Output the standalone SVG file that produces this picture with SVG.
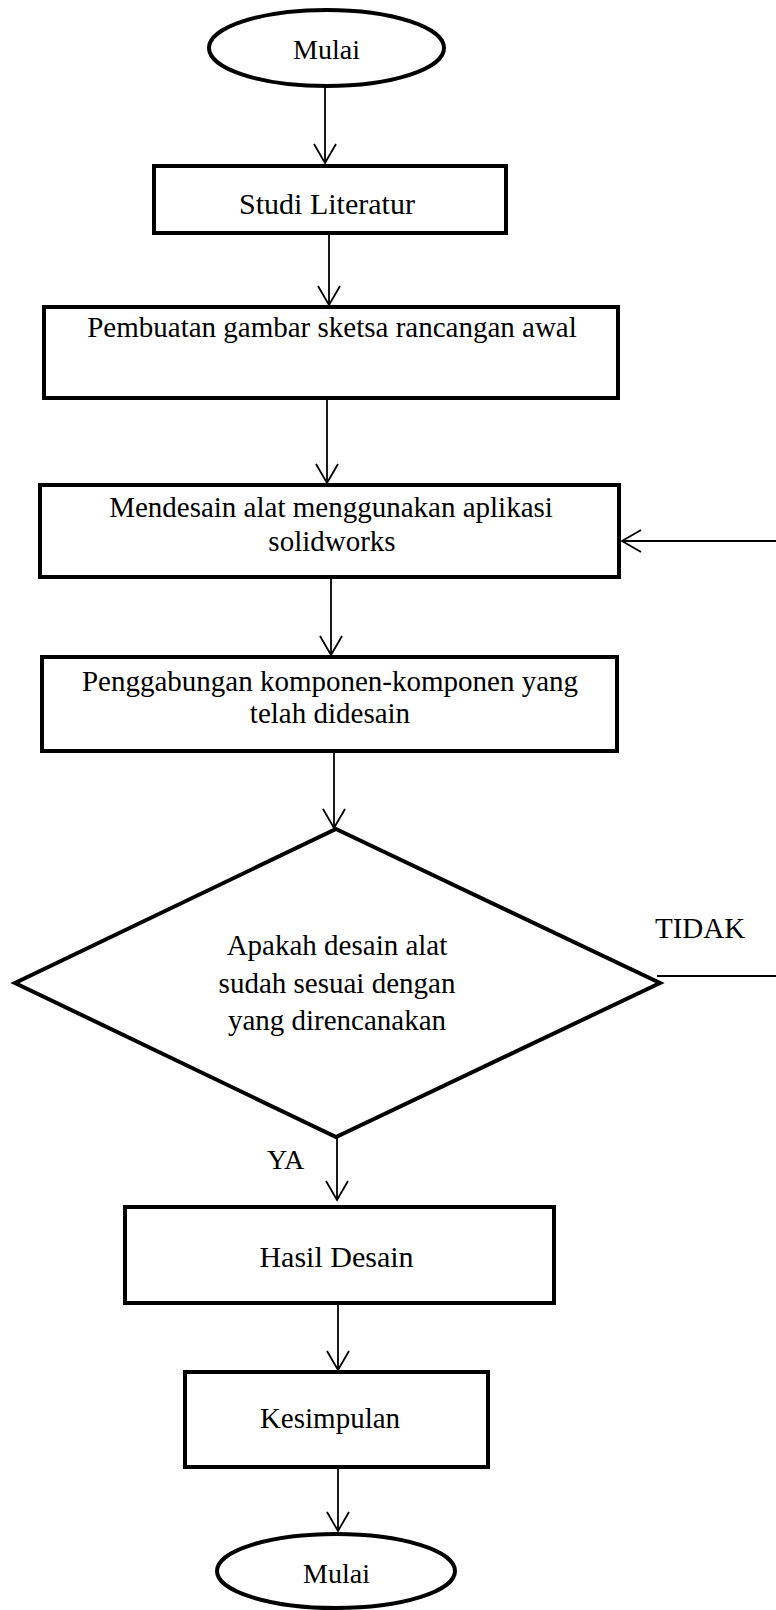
<svg xmlns="http://www.w3.org/2000/svg" width="776" height="1610" viewBox="0 0 776 1610">
<style>
.shape{fill:#fff;stroke:#000;stroke-width:4}
.conn{fill:none;stroke:#000;stroke-width:1.8}
text{font-family:"Liberation Serif","Times New Roman",serif;fill:#000;text-anchor:middle}
</style>
<defs>
<marker id="arr" markerUnits="userSpaceOnUse" viewBox="0 0 22 24" refX="20" refY="12" markerWidth="22" markerHeight="24" orient="auto">
<path d="M1,1 L20,12 L1,23" fill="none" stroke="#000" stroke-width="1.8"/>
</marker>
</defs>
<rect width="776" height="1610" fill="#fff"/>
<g id="connectors">
<line class="conn" x1="325" y1="88" x2="325" y2="163" marker-end="url(#arr)"/>
<line class="conn" x1="329" y1="234" x2="329" y2="305" marker-end="url(#arr)"/>
<line class="conn" x1="327" y1="400" x2="327" y2="483" marker-end="url(#arr)"/>
<line class="conn" x1="331" y1="579" x2="331" y2="655" marker-end="url(#arr)"/>
<line class="conn" x1="334" y1="753" x2="334" y2="828" marker-end="url(#arr)"/>
<line class="conn" x1="337" y1="1137" x2="337" y2="1200" marker-end="url(#arr)"/>
<line class="conn" x1="338" y1="1305" x2="338" y2="1370" marker-end="url(#arr)"/>
<line class="conn" x1="338" y1="1469" x2="338" y2="1531" marker-end="url(#arr)"/>
<line class="conn" x1="657" y1="976" x2="776" y2="976"/>
<line class="conn" x1="776" y1="541" x2="622" y2="541" marker-end="url(#arr)"/>
<text x="267" y="1169" font-size="28" style="text-anchor:start">YA</text>
<text x="655" y="938" font-size="29" style="text-anchor:start">TIDAK</text>
</g>
<g id="start">
<ellipse class="shape" cx="326.5" cy="48" rx="117.5" ry="38"/>
<text x="326.5" y="59" font-size="28">Mulai</text>
</g>
<g id="studi">
<rect class="shape" x="154" y="166" width="352" height="67"/>
<text x="327" y="214" font-size="30">Studi Literatur</text>
</g>
<g id="sketsa">
<rect class="shape" x="44" y="307" width="574" height="91"/>
<text x="332" y="337" font-size="29">Pembuatan gambar sketsa rancangan awal</text>
</g>
<g id="desain">
<rect class="shape" x="40" y="485" width="579" height="92"/>
<text x="331" y="517" font-size="29">Mendesain alat menggunakan aplikasi</text>
<text x="332" y="551" font-size="29">solidworks</text>
</g>
<g id="gabung">
<rect class="shape" x="42" y="657" width="575" height="94"/>
<text x="330" y="691" font-size="29">Penggabungan komponen-komponen yang</text>
<text x="330" y="723" font-size="29">telah didesain</text>
</g>
<g id="cek">
<polygon class="shape" points="336,829 660,983 336,1137 15,983"/>
<text x="337" y="955" font-size="29">Apakah desain alat</text>
<text x="337" y="992.5" font-size="29">sudah sesuai dengan</text>
<text x="337" y="1030" font-size="29">yang direncanakan</text>
</g>
<g id="hasil">
<rect class="shape" x="125" y="1207" width="429" height="96"/>
<text x="336.5" y="1267" font-size="30">Hasil Desain</text>
</g>
<g id="kesimpulan">
<rect class="shape" x="185" y="1372" width="303" height="95"/>
<text x="330" y="1428" font-size="29">Kesimpulan</text>
</g>
<g id="end">
<ellipse class="shape" cx="336" cy="1571" rx="119" ry="37"/>
<text x="336.5" y="1583" font-size="28">Mulai</text>
</g>
</svg>
